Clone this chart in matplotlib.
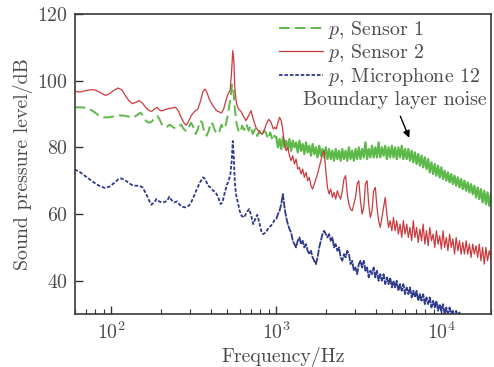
import matplotlib
matplotlib.use("Agg")
import matplotlib.pyplot as plt

# low-frequency part of each spectrum
green_f_low = [60, 66, 72, 78, 84, 90, 97, 104, 112, 120, 128, 136, 143, 150, 156, 162, 168, 175,
               182, 190, 196, 202, 210, 218, 226, 234, 245, 255, 265, 275, 285, 295, 305, 315, 325,
               335, 345, 355, 365, 378, 390, 400, 412, 425, 440, 452, 465, 480, 495, 510, 525, 540,
               550, 560, 575, 590, 605, 620, 640, 660, 680, 700, 720, 745, 767, 790, 815, 845, 866,
               890, 920, 950, 975]
green_db_low = [92.0, 92.0, 91.8, 90.8, 89.6, 89.0, 89.0, 89.3, 89.6, 89.5, 89.2, 89.0, 89.6, 90.4,
                89.5, 88.0, 87.4, 87.6, 88.6, 89.4, 88.5, 87.0, 86.0, 86.2, 86.8, 86.3, 85.6, 86.3,
                86.8, 85.5, 84.8, 86.0, 87.4, 86.0, 84.0, 85.5, 88.0, 87.5, 85.0, 83.5, 85.0, 87.5,
                87.0, 85.0, 84.0, 84.8, 86.8, 85.5, 86.8, 90.0, 94.0, 98.8, 97.0, 92.0, 87.0, 85.0,
                84.4, 86.5, 85.2, 87.0, 85.0, 86.5, 84.0, 85.5, 83.4, 85.0, 83.5, 85.0, 84.4, 82.5,
                84.5, 82.0, 83.5]

red_f_low = [60, 65, 70, 75, 80, 86, 92, 97, 103, 110, 116, 122, 128, 134, 141, 148, 155, 163, 170,
             176, 183, 190, 196, 202, 210, 218, 226, 234, 245, 255, 265, 275, 284, 292, 305, 320,
             335, 348, 360, 370, 380, 392, 405, 420, 435, 452, 465, 480, 495, 510, 525, 535, 545,
             553, 562, 575, 590, 611, 630, 655, 680, 703, 725, 754, 790, 823, 850, 870, 900, 930,
             960, 980]
red_db_low = [96.8, 96.6, 97.0, 97.3, 97.2, 96.4, 95.6, 96.0, 97.0, 97.8, 97.2, 95.5, 94.0, 93.1,
              93.5, 94.0, 93.2, 91.8, 91.0, 90.8, 91.5, 92.0, 91.2, 90.9, 91.2, 91.5, 91.7, 91.8,
              92.0, 91.0, 89.0, 87.5, 86.6, 87.5, 89.5, 90.8, 91.5, 94.0, 96.8, 97.5, 96.5, 94.5,
              93.2, 92.0, 91.0, 90.6, 90.3, 91.5, 94.0, 96.0, 97.0, 102.0, 109.0, 106.0, 97.0,
              93.0, 91.5, 90.8, 89.5, 88.0, 89.5, 91.0, 88.5, 85.9, 84.5, 83.9, 85.5, 87.0, 88.4,
              87.5, 85.5, 86.0]

blue_f_low = [60, 65, 70, 75, 80, 86, 92, 98, 104, 110, 115, 121, 128, 134, 141, 148, 155, 163,
              170, 175, 182, 188, 195, 202, 210, 218, 225, 232, 240, 250, 260, 270, 282, 295, 305,
              318, 330, 345, 360, 372, 385, 400, 415, 430, 445, 460, 472, 485, 500, 515, 527, 537,
              545, 552, 560, 570, 585, 600, 615, 640, 660, 686, 705, 725, 745, 767, 789, 810, 830,
              866, 900, 929, 960, 980]
blue_db_low = [73.4, 72.5, 71.3, 70.2, 69.2, 68.3, 67.8, 68.3, 69.3, 70.4, 70.7, 70.2, 69.3, 68.7,
               68.5, 68.5, 68.0, 66.0, 64.0, 62.8, 63.5, 64.5, 63.8, 63.5, 63.6, 64.0, 65.2, 64.2,
               63.5, 63.8, 62.8, 62.2, 62.0, 62.5, 63.5, 65.5, 67.5, 69.5, 71.0, 70.5, 68.5, 68.0,
               67.0, 66.5, 65.0, 63.0, 63.5, 66.0, 68.5, 70.0, 72.0, 76.0, 81.9, 78.0, 70.0, 66.0,
               63.5, 61.0, 59.5, 59.0, 60.5, 61.5, 59.5, 57.0, 58.5, 59.8, 57.5, 55.0, 54.0, 54.5,
               56.0, 56.5, 57.5, 58.5]

# shared frequency bins above 1 kHz (dense, noisy part)
freq_hf = [1000, 1023, 1047, 1072, 1096, 1122, 1148, 1175, 1202, 1230,
           1259, 1288, 1318, 1349, 1380, 1413, 1445, 1479, 1514, 1549,
           1585, 1622, 1660, 1698, 1738, 1778, 1820, 1862, 1905, 1950,
           1995, 2042, 2089, 2138, 2188, 2239, 2291, 2344, 2399, 2455,
           2512, 2570, 2630, 2692, 2754, 2818, 2884, 2951, 3020, 3090,
           3162, 3236, 3311, 3388, 3467, 3548, 3631, 3715, 3802, 3890,
           3981, 4074, 4169, 4266, 4365, 4467, 4571, 4677, 4786, 4898,
           5012, 5129, 5248, 5370, 5495, 5623, 5754, 5888, 6026, 6166,
           6310, 6457, 6607, 6761, 6918, 7079, 7244, 7413, 7586, 7762,
           7943, 8128, 8318, 8511, 8710, 8913, 9120, 9333, 9550, 9772,
           10000, 10230, 10470, 10720, 10960, 11220, 11480, 11750, 12020, 12300,
           12590, 12880, 13180, 13490, 13800, 14130, 14450, 14790, 15140, 15490,
           15850, 16220, 16600, 16980, 17380, 17780, 18200, 18620, 19050, 19500,
           19950]

green_db_hf = [83, 80, 82.5, 79.5, 83, 80, 82, 79.5, 82.5, 79,
               82, 80, 81.5, 78.5, 82, 79, 81, 78, 81.5, 78.5,
               80.5, 77.5, 81, 78, 80, 77, 80.5, 77.5, 79.5, 77,
               80, 76.5, 79.5, 76.5, 79, 76, 79.5, 76.5, 79, 76,
               79.5, 76.5, 79, 76, 80, 76.5, 79, 76, 79.5, 76.5,
               80, 76.5, 79.5, 77, 81.5, 76.5, 79.5, 77, 80.5, 77,
               80, 77, 81.5, 77, 80, 77.5, 80.5, 76.5, 80, 77,
               80.5, 77, 80, 76.5, 80, 77, 80.5, 76.5, 79.5, 76.5,
               79.5, 76, 79, 75.5, 78.5, 75, 78, 74.5, 77.5, 74,
               77, 73.5, 76.5, 72.5, 75.5, 72, 75, 71.5, 74.5, 71,
               74, 70.5, 73, 70, 72.5, 69.5, 72, 69, 71.5, 68.5,
               71, 68, 70.5, 67.5, 70, 67, 69.5, 66.5, 69, 66,
               68.5, 65, 68, 64.5, 67.5, 63.5, 67, 63, 66.5, 62.5,
               66]

red_db_hf = [85.5, 87.5, 89, 88, 85, 81, 79, 80, 77.5, 76,
             77.5, 75, 76.5, 73.5, 74, 72, 73.5, 71, 72.5, 70,
             71, 68.5, 67.5, 69, 70.5, 72, 74, 76, 78, 79,
             73, 68, 66, 67.5, 65, 66.5, 64.5, 67, 65.5, 64.5,
             67, 70.5, 71.5, 66, 63, 61.5, 61, 63, 65, 69,
             70, 64, 60, 62, 69, 70, 63, 59, 61, 67,
             68, 62, 58, 56, 59, 62, 65, 60, 56, 58,
             55, 59, 55, 58, 54, 57, 53, 58, 54, 57,
             53, 56, 52, 58, 53, 56, 51.5, 55.5, 52, 57,
             51, 55, 50.5, 56, 52, 54, 50, 55, 51, 53.5,
             49.5, 55, 50, 53, 49, 54, 50, 52.5, 48, 53,
             49, 52, 48, 51.5, 48, 52, 48, 51, 47, 51,
             48, 50.5, 47, 51, 46, 50, 45, 50, 46, 49,
             47]

blue_db_hf = [58.5, 60, 61, 63, 66, 62, 59, 57, 55.5, 54.5,
              52, 51, 50, 52, 53, 51, 52, 50, 51, 49,
              48, 49, 47, 46, 45, 47, 50, 52, 54, 55,
              54, 53, 54, 52, 53, 50, 51, 49, 50, 47,
              46, 48, 47, 49, 48, 45, 46, 43, 44, 42,
              45, 46, 44, 46, 43, 44, 41, 43, 42, 44,
              41, 43, 40, 42, 40, 42, 39, 41, 39, 41,
              38, 40, 38, 40, 37, 39, 37, 39, 36, 38,
              36, 38, 35, 37, 35, 37, 34, 36, 34, 36,
              33, 35, 33, 35, 32, 34, 32, 34, 31, 33,
              31, 33, 30, 32, 30, 32, 30, 31, 29, 31,
              29, 30.5, 28, 29, 27, 28, 26.5, 27.5, 26, 27,
              25, 26, 24.5, 25.5, 24, 25, 23.5, 24.5, 23, 24,
              23]

labels = ["$p$, Sensor 1", "$p$, Sensor 2", "$p$, Microphone 12"]

green = "#5cb94a"
red = "#cc3a3e"
blue = "#2e3a8c"

text_col = "#4a4a4a"
plt.rcParams["font.family"] = ["cmr10", "DejaVu Serif"]
plt.rcParams["mathtext.fontset"] = "cm"
plt.rcParams["axes.formatter.use_mathtext"] = True
plt.rcParams["font.size"] = 14.3
plt.rcParams["text.color"] = text_col
plt.rcParams["axes.labelcolor"] = text_col
plt.rcParams["xtick.color"] = "#333333"
plt.rcParams["ytick.color"] = "#333333"
plt.rcParams["xtick.labelcolor"] = text_col
plt.rcParams["ytick.labelcolor"] = text_col

fig = plt.figure(figsize=(4.94, 3.67), dpi=100)
ax = fig.add_axes([0.151, 0.144, 0.843, 0.818])

# low part dashed like the legend; the dense noisy part merges into a band
ax.plot(green_f_low + freq_hf[:1], green_db_low + green_db_hf[:1], color=green, lw=1.4,
        linestyle=(0, (5.5, 2.6)), label=labels[0])
ax.plot(freq_hf, green_db_hf, color=green, lw=1.6)
ax.plot(red_f_low + freq_hf, red_db_low + red_db_hf, color=red, lw=0.9,
        label=labels[1])
ax.plot(blue_f_low + freq_hf[:1], blue_db_low + blue_db_hf[:1], color=blue, lw=1.3,
        linestyle=(0, (2.0, 1.0)), label=labels[2])
ax.plot(freq_hf, blue_db_hf, color=blue, lw=1.3, linestyle=(0, (4.0, 0.6)))

ax.set_xscale("log")
ax.set_xlim(60, 20000)
ax.set_ylim(30, 120)
ax.set_yticks([40, 60, 80, 100, 120])
ax.set_xlabel("Frequency/Hz", labelpad=3)
ax.set_ylabel("Sound pressure level/dB", labelpad=3)

ax.tick_params(which="both", direction="in", top=False, right=False)
ax.tick_params(which="major", length=6, width=1.0, pad=5)
ax.tick_params(which="minor", length=3.5, width=0.8)
for s in ax.spines.values():
    s.set_color("#3a3a3a")
    s.set_linewidth(1.2)

ax.legend(loc="upper left", bbox_to_anchor=(0.458, 1.03), frameon=False,
          handlelength=2.2, handletextpad=0.25, labelspacing=0.08, borderaxespad=0.3)

ax.text(5200, 94.3, "Boundary layer noise", ha="center", va="center")
ax.annotate("", xy=(6486, 82.1), xytext=(5560, 90.1),
            arrowprops=dict(arrowstyle="-|>", color="black", lw=1.0, mutation_scale=10))

fig.savefig("out.png", dpi=100)
